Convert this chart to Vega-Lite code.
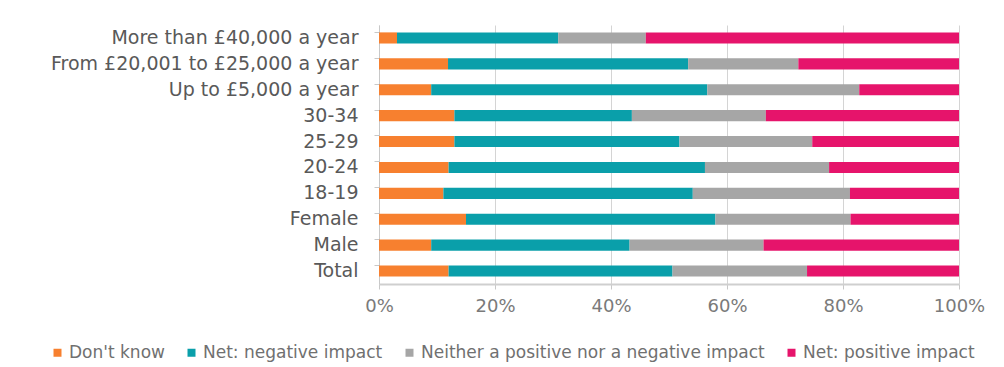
{
  "$schema": "https://vega.github.io/schema/vega-lite/v6.json",
  "width": 580,
  "height": 259,
  "autosize": "none",
  "padding": {"left": 379, "top": 25, "right": 45, "bottom": 83},
  "background": "white",
  "config": {"view": {"stroke": null}, "font": "DejaVu Sans"},
  "data": {
    "values": [
      {"group": "More than £40,000 a year", "impact": "Don't know", "pct": 3.1},
      {"group": "More than £40,000 a year", "impact": "Net: negative impact", "pct": 27.8},
      {"group": "More than £40,000 a year", "impact": "Neither a positive nor a negative impact", "pct": 15.1},
      {"group": "More than £40,000 a year", "impact": "Net: positive impact", "pct": 54.0},
      {"group": "From £20,001 to £25,000 a year", "impact": "Don't know", "pct": 11.9},
      {"group": "From £20,001 to £25,000 a year", "impact": "Net: negative impact", "pct": 41.4},
      {"group": "From £20,001 to £25,000 a year", "impact": "Neither a positive nor a negative impact", "pct": 19.0},
      {"group": "From £20,001 to £25,000 a year", "impact": "Net: positive impact", "pct": 27.7},
      {"group": "Up to £5,000 a year", "impact": "Don't know", "pct": 9.0},
      {"group": "Up to £5,000 a year", "impact": "Net: negative impact", "pct": 47.6},
      {"group": "Up to £5,000 a year", "impact": "Neither a positive nor a negative impact", "pct": 26.2},
      {"group": "Up to £5,000 a year", "impact": "Net: positive impact", "pct": 17.2},
      {"group": "30-34", "impact": "Don't know", "pct": 13.0},
      {"group": "30-34", "impact": "Net: negative impact", "pct": 30.6},
      {"group": "30-34", "impact": "Neither a positive nor a negative impact", "pct": 23.1},
      {"group": "30-34", "impact": "Net: positive impact", "pct": 33.3},
      {"group": "25-29", "impact": "Don't know", "pct": 13.0},
      {"group": "25-29", "impact": "Net: negative impact", "pct": 38.8},
      {"group": "25-29", "impact": "Neither a positive nor a negative impact", "pct": 22.9},
      {"group": "25-29", "impact": "Net: positive impact", "pct": 25.3},
      {"group": "20-24", "impact": "Don't know", "pct": 12.0},
      {"group": "20-24", "impact": "Net: negative impact", "pct": 44.2},
      {"group": "20-24", "impact": "Neither a positive nor a negative impact", "pct": 21.4},
      {"group": "20-24", "impact": "Net: positive impact", "pct": 22.4},
      {"group": "18-19", "impact": "Don't know", "pct": 11.1},
      {"group": "18-19", "impact": "Net: negative impact", "pct": 43.0},
      {"group": "18-19", "impact": "Neither a positive nor a negative impact", "pct": 27.1},
      {"group": "18-19", "impact": "Net: positive impact", "pct": 18.8},
      {"group": "Female", "impact": "Don't know", "pct": 15.0},
      {"group": "Female", "impact": "Net: negative impact", "pct": 43.0},
      {"group": "Female", "impact": "Neither a positive nor a negative impact", "pct": 23.3},
      {"group": "Female", "impact": "Net: positive impact", "pct": 18.7},
      {"group": "Male", "impact": "Don't know", "pct": 9.0},
      {"group": "Male", "impact": "Net: negative impact", "pct": 34.2},
      {"group": "Male", "impact": "Neither a positive nor a negative impact", "pct": 23.1},
      {"group": "Male", "impact": "Net: positive impact", "pct": 33.7},
      {"group": "Total", "impact": "Don't know", "pct": 12.0},
      {"group": "Total", "impact": "Net: negative impact", "pct": 38.6},
      {"group": "Total", "impact": "Neither a positive nor a negative impact", "pct": 23.2},
      {"group": "Total", "impact": "Net: positive impact", "pct": 26.2}
    ]
  },
  "transform": [
    {"window": [{"op": "row_number", "as": "k"}], "groupby": ["group"]}
  ],
  "mark": {"type": "bar"},
  "encoding": {
    "y": {
      "field": "group",
      "type": "nominal",
      "sort": ["More than £40,000 a year", "From £20,001 to £25,000 a year", "Up to £5,000 a year", "30-34", "25-29", "20-24", "18-19", "Female", "Male", "Total"],
      "scale": {"paddingInner": 0.57, "paddingOuter": 0.285},
      "axis": {
        "title": null,
        "labelFont": "DejaVu Sans",
        "labelFontSize": 19,
        "labelColor": "#595959",
        "labelPadding": 16,
        "labelLimit": 400,
        "tickSize": 5,
        "tickColor": "#c8c8c8",
        "bandPosition": 0,
        "domainColor": "#c8c8c8",
        "grid": false
      }
    },
    "x": {
      "field": "pct",
      "type": "quantitative",
      "stack": "normalize",
      "scale": {"domain": [0, 1], "nice": false},
      "axis": {
        "title": null,
        "values": [0, 0.2, 0.4, 0.6, 0.8, 1],
        "format": ".0%",
        "labelFont": "DejaVu Sans",
        "labelFontSize": 18,
        "labelColor": "#7a7a7a",
        "labelPadding": 8,
        "tickSize": 5,
        "tickColor": "#c8c8c8",
        "domainColor": "#cfcfcf",
        "domainWidth": 2,
        "grid": true,
        "gridColor": "#d4d4d4",
        "labelFlush": false
      }
    },
    "color": {
      "field": "impact",
      "type": "nominal",
      "scale": {
        "domain": ["Don't know", "Net: negative impact", "Neither a positive nor a negative impact", "Net: positive impact"],
        "range": ["#F7802F", "#0A9FAA", "#A6A6A6", "#E6146B"]
      },
      "legend": {
        "title": null,
        "orient": "none",
        "direction": "horizontal",
        "legendX": -330,
        "legendY": 319,
        "symbolType": "square",
        "symbolSize": 64,
        "symbolStrokeWidth": 0,
        "labelFont": "DejaVu Sans",
        "labelFontSize": 17,
        "labelColor": "#707070",
        "labelOffset": 3,
        "columnPadding": 18,
        "labelLimit": 500
      }
    },
    "order": {"field": "k", "type": "quantitative"}
  }
}
